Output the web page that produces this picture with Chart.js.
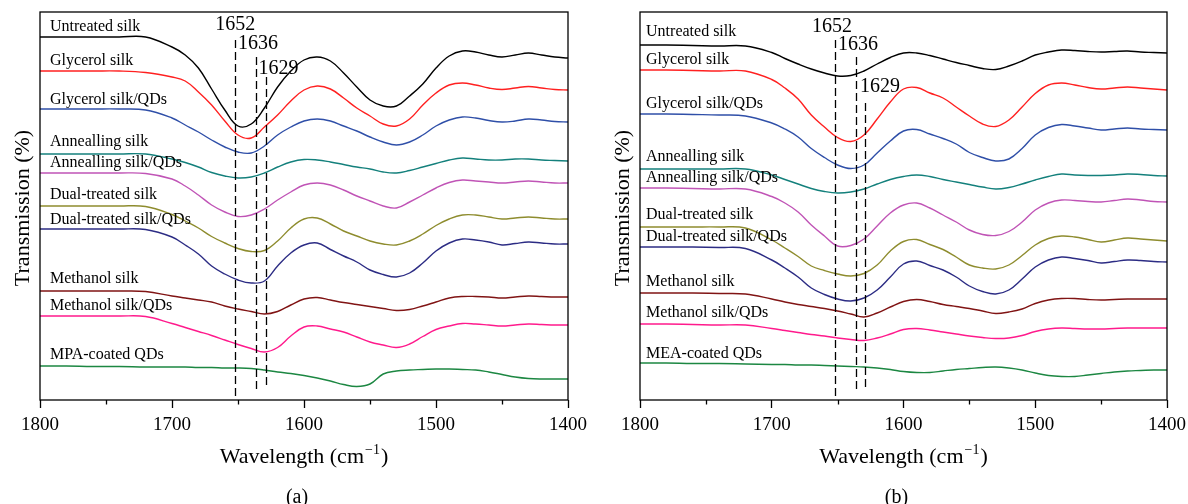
<!DOCTYPE html>
<html>
<head>
<meta charset="utf-8">
<script src="https://cdn.jsdelivr.net/npm/chart.js@4"></script>
<style>
  html, body { margin: 0; padding: 0; background: #fff; }
  #wrap { position: relative; width: 1188px; height: 504px; overflow: hidden; }
  canvas { position: absolute; top: 0; }
</style>
</head>
<body>
<div id="wrap">
  <canvas id="chartA" width="600" height="504" style="left:0"></canvas>
  <canvas id="chartB" width="588" height="504" style="left:600px"></canvas>
</div>
<script>
// wavenumber grid (cm-1), shared by every spectrum
const wavenumbers = [1800, 1780, 1760, 1740, 1720, 1700, 1690, 1680, 1670, 1660, 1650, 1640,
  1630, 1620, 1610, 1600, 1590, 1580, 1570, 1560, 1550, 1540, 1530, 1520, 1510, 1500,
  1490, 1480, 1470, 1460, 1450, 1440, 1430, 1420, 1410, 1400];

// panel (a) - offset transmission, arbitrary units
const untreatedA   = [363,363,363,363,363,353,345,332,311,290,274,276,292,313,329,340,343,339,327,313,300,294,294,304,316,332,344,349,348,345,343,345,347,345,343,342];
const glycerolA    = [329,329,329,329,327.5,323,319,308,295,279,265,262,273,285,299,310,314,311,302,292,284,276,274,281,295,307,315,317,315,312,310.5,312,313.5,312,310.5,310];
const glycerolQDA  = [291,291,291,291,290,282,275,268,260,253,248,247,254,265,273,279,281,279,274,269,263,258,255,258,265,274,280,283,282,279.5,278,279,281,280,278.5,278];
const annealA      = [246,246,246,246,246,241,237.5,233,227.5,224,222,223,227,233,238,240.5,240,238,235.5,233,231,228,227,229.5,233,236.5,240,242,241,240,240,241,241,240,239.5,239];
const annealQDA    = [227,227,227,227,226.5,221,214,205,195,188,183.5,185,191,200,208,215,217,215,210,204,199,194,192,198,205,212,217.5,220,219,218,217,218,219,218,217,217];
const dualA        = [194,194,194,194,193.5,185.5,179,172,163.5,157,151.5,148.5,149.5,159,172,181,182,176,169,164,159,156,155,159,166,174.5,181,185,185,183,181,182,183,182,181,181];
const dualQDA      = [171,171,171,171,170.5,163,155,146,134,126,120,117,119,134,147,155,157,150.5,144,138,130,125.5,123,127,137,149,157,161,160,158,155,156.5,158,157,156,156];
const methanolA    = [109,109,109,109,108.5,104,102,100,98,94,91,88.5,86,88.5,95,101,102.5,100,97.5,95.5,93.5,91.5,89.5,90.5,94,98,102,103.5,103.5,103,102,103,104,103.5,103,103];
const methanolQDA  = [84,84,84,84,83.5,76.5,72.5,68.5,64.5,60,55.5,51.5,48,52.5,64,73,74,71,68,63,58,55,52.5,56,63.5,70.5,74,76.5,76,75,74,75,76,75.5,75,75];
const mpaQD        = [34,34,33.5,33.5,33,33,33,32.5,32.5,32,32,31.5,30,28,26.5,24.5,22,19,15.5,13.5,16,26,29,30,30.5,31,31,30.5,30,28,25.5,23,21.5,21,21,21];

// panel (b)
const untreatedB   = [355,355,354.5,354,354,347.5,341.5,336,331,327,324,324.5,329,336,342.5,347,347,344.5,341,337.5,334.5,331.5,330.5,334,339,345,348,350,349.5,348.5,348,348.5,349,348,347.5,347];
const glycerolB    = [330,330,329.5,329,329,320.5,312,301,285,273,262.5,258.5,265,281,298,311,312.5,307,302,293,284,276,273.5,280,293,306.5,315,317,315,312.5,311,312,313,312,311,310];
const glycerolQDB  = [286,286,285.5,285,284,277,271,263,251.5,242.5,235,231.5,235,247,259,269,270.5,266,261.5,256,247.5,242.5,239,241,251.5,265,272.5,275.5,274,272,270,271,272,271,270.5,270];
const annealB      = [231,231,231,231,231,225,220.5,216,211.5,208.5,207,208,211,216,220.5,223.5,225,223.5,220.5,218,215.5,213,211,212.5,216,220,223.5,226,225,224.5,224.5,225,226,225.5,224.5,224];
const annealQDB    = [212,212,211.5,211,211,203.5,197,188,175,164,154,154.5,161,174,187,195,197,192,185,178,170,165.5,164.5,168.5,178,190,197,200,199.5,198.5,198,199.5,201,200,198.5,198];
const dualB        = [173,173,173,173,172,160,152,143.5,134,129.5,126,124,126.5,135,149,158.5,160.5,155.5,150.5,143,135,132,131,135,144.5,155,161.5,164,163,160.5,158,160,162,161,160,159];
const dualQDB      = [153,153,153,152.5,151.5,140,132,123,112,105.5,101,99,102,110,123,136,139,134.5,130,123,114,108.5,106,110,121,133,140,143,141.5,139.5,137,138.5,140,139.5,138.5,138];
const methanolB    = [107,107,107,106.5,106,101,98,95.5,93.5,91.5,89,86,83,87,93,98.5,100.5,98.5,95.5,93.5,91.5,89,86.5,88,91,96.5,100,101.5,101.5,100.5,100,100.5,101,101,101,101];
const methanolQDB  = [76,76,75.5,75,75,71.5,69.5,67.5,65.5,64,62,60.5,59.5,62,66,70.5,71.5,70,68,66,64,62.5,61.5,62,64.5,68.5,71,72,71.5,71,71,71.5,72,72,72,72];
const meaQD        = [37,37,36.5,36.5,36,35.5,35.5,35,35,34.5,34,33.5,33,32,30.5,28.5,27.5,27.5,29,30.5,31.5,32.5,33,32,30,27,24.5,23.5,23.5,25,26.5,28,29,29.5,30,30];

const namesA = ['Untreated silk', 'Glycerol silk', 'Glycerol silk/QDs', 'Annealling silk', 'Annealling silk/QDs',
  'Dual-treated silk', 'Dual-treated silk/QDs', 'Methanol silk', 'Methanol silk/QDs', 'MPA-coated QDs'];
const namesB = ['Untreated silk', 'Glycerol silk', 'Glycerol silk/QDs', 'Annealling silk', 'Annealling silk/QDs',
  'Dual-treated silk', 'Dual-treated silk/QDs', 'Methanol silk', 'Methanol silk/QDs', 'MEA-coated QDs'];

const peaks = [1652, 1636, 1629];
const xTicks = [1800, 1700, 1600, 1500, 1400];

const colors = ['#000000', '#ff2020', '#2f4fa8', '#14807c', '#c054b6', '#8e8c2e', '#2c2c84', '#801414', '#ff1a8c', '#1c8742'];
const FONT = '"Liberation Serif", "Times New Roman", serif';

// annotation placement (in data units) for each panel
const layoutA = {
  letter: '(a)', padRight: 32,
  labelX: 1792.4, labelY: [373, 339, 300, 258, 237.5, 205, 180, 121, 94, 45],
  peakTop: [360, 343, 323], peakBottom: [3, 8, 12],
  peakTextX: [1652, 1634.8, 1619.3], peakTextY: [375, 356.5, 331.5]
};
const layoutB = {
  letter: '(b)', padRight: 21,
  labelX: 1795.4, labelY: [368, 340, 296, 243, 222, 185, 163, 118, 87, 46],
  peakTop: [360, 343, 297], peakBottom: [3, 8, 12],
  peakTextX: [1654.3, 1634.5, 1617.8], peakTextY: [373.5, 355, 313.5]
};

const decorPlugin = {
  id: 'decor',
  afterDraw(chart, args, opts) {
    const ctx = chart.ctx, xs = chart.scales.x, ys = chart.scales.y, a = chart.chartArea;
    const L = opts.layout;
    ctx.save();
    ctx.fillStyle = '#000';
    ctx.strokeStyle = '#000';

    // dashed peak markers
    ctx.lineWidth = 1.3;
    ctx.setLineDash([8, 4]);
    peaks.forEach((p, i) => {
      const x = Math.round(xs.getPixelForValue(p)) + 0.5;
      ctx.beginPath();
      ctx.moveTo(x, ys.getPixelForValue(L.peakTop[i]));
      ctx.lineTo(x, ys.getPixelForValue(L.peakBottom[i]));
      ctx.stroke();
    });
    ctx.setLineDash([]);

    ctx.font = '20px ' + FONT;
    ctx.textAlign = 'center';
    ctx.textBaseline = 'middle';
    peaks.forEach((p, i) => {
      ctx.fillText(String(p), xs.getPixelForValue(L.peakTextX[i]), ys.getPixelForValue(L.peakTextY[i]));
    });

    // curve names
    ctx.font = '16px ' + FONT;
    ctx.textAlign = 'left';
    opts.names.forEach((n, i) => {
      ctx.fillText(n, xs.getPixelForValue(L.labelX), ys.getPixelForValue(L.labelY[i]));
    });

    // frame
    ctx.lineWidth = 1.3;
    ctx.strokeRect(a.left, a.top, a.right - a.left, a.bottom - a.top);

    // minor ticks between the labelled ones
    ctx.beginPath();
    for (let v = 1750; v > 1400; v -= 100) {
      const x = Math.round(xs.getPixelForValue(v)) + 0.5;
      ctx.moveTo(x, a.bottom);
      ctx.lineTo(x, a.bottom + 4.5);
    }
    ctx.stroke();

    // x title with superscript
    const cx = (a.left + a.right) / 2;
    const base = 463;
    ctx.textBaseline = 'alphabetic';
    ctx.font = '22px ' + FONT;
    const t1 = 'Wavelength (cm', t3 = ')';
    const w1 = ctx.measureText(t1).width, w3 = ctx.measureText(t3).width;
    ctx.font = '14px ' + FONT;
    const sup = '\u22121';
    const w2 = ctx.measureText(sup).width + 2;
    const x0 = cx - (w1 + w2 + w3) / 2;
    ctx.font = '22px ' + FONT;
    ctx.fillText(t1, x0, base);
    ctx.font = '14px ' + FONT;
    ctx.fillText(sup, x0 + w1 + 1, base - 9);
    ctx.font = '22px ' + FONT;
    ctx.fillText(t3, x0 + w1 + w2, base);

    // panel letter
    ctx.font = '20px ' + FONT;
    ctx.textAlign = 'center';
    ctx.fillText(L.letter, cx - 7, 503);

    // y title
    ctx.translate(23, (a.top + a.bottom) / 2 + 2);
    ctx.rotate(-Math.PI / 2);
    ctx.font = '22px ' + FONT;
    ctx.textBaseline = 'middle';
    ctx.fillText('Transmission (%)', 0, 0);
    ctx.restore();
  }
};

function makeChart(id, series, names, layout) {
  const datasets = series.map((vals, i) => ({
    label: names[i],
    data: wavenumbers.map((w, j) => ({ x: w, y: vals[j] })),
    borderColor: colors[i],
    borderWidth: 1.4,
    pointRadius: 0,
    fill: false,
    tension: 0.4
  }));

  return new Chart(document.getElementById(id), {
    type: 'line',
    data: { datasets },
    plugins: [decorPlugin],
    options: {
      responsive: false,
      animation: false,
      devicePixelRatio: 1,
      events: [],
      layout: { padding: { top: 12, right: layout.padRight, left: 0, bottom: 0 } },
      plugins: {
        legend: { display: false },
        tooltip: { enabled: false },
        decor: { layout, names }
      },
      scales: {
        x: {
          type: 'linear',
          reverse: true,
          min: 1400,
          max: 1800,
          afterBuildTicks: s => { s.ticks = xTicks.map(v => ({ value: v })); },
          afterFit: s => { s.height = 104; s.paddingLeft = 0; s.paddingRight = 0; },
          ticks: {
            color: '#000',
            font: { family: FONT, size: 19 },
            padding: 6,
            maxRotation: 0,
            autoSkip: false,
            callback: v => String(v)
          },
          grid: { display: true, drawOnChartArea: false, drawTicks: true, tickLength: 8, tickColor: '#000', tickWidth: 1.3 },
          border: { display: false }
        },
        y: {
          min: 0,
          max: 388,
          afterFit: s => { s.width = 40; },
          ticks: { display: false },
          grid: { display: false },
          border: { display: false }
        }
      }
    }
  });
}

makeChart('chartA',
  [untreatedA, glycerolA, glycerolQDA, annealA, annealQDA, dualA, dualQDA, methanolA, methanolQDA, mpaQD],
  namesA, layoutA);
makeChart('chartB',
  [untreatedB, glycerolB, glycerolQDB, annealB, annealQDB, dualB, dualQDB, methanolB, methanolQDB, meaQD],
  namesB, layoutB);
</script>
</body>
</html>
